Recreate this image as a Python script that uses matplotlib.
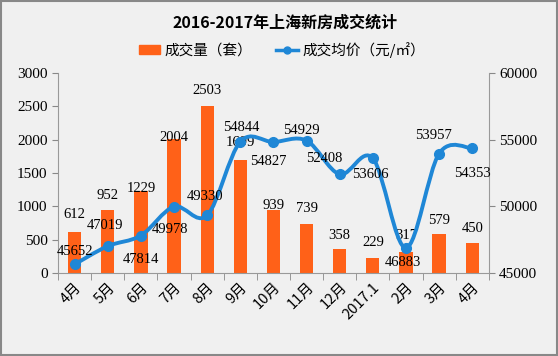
import numpy as np
import matplotlib.pyplot as plt
from matplotlib.path import Path
from matplotlib.patches import PathPatch, Patch
from matplotlib.lines import Line2D

plt.rcParams['font.family'] = ['Noto Sans CJK SC', 'DejaVu Sans']

months = ['4月', '5月', '6月', '7月', '8月', '9月', '10月', '11月', '12月',
          '2017.1', '2月', '3月', '4月']
volume = [612, 952, 1229, 2004, 2503, 1699, 939, 739, 358, 229, 317, 579, 450]
price = [45652, 47019, 47814, 49978, 49330, 54844, 54827, 54929, 52408,
         53606, 46883, 53957, 54353]

# label offsets in pixels
bar_dy = [18, 14, 3, 2, 16, 17, 5, 15, 14, 15, 16, 14, 15]
price_off = [(0, 13), (-3, 21), (0, -24), (-4, -23), (-2, 19), (1, 14), (-5, -20),
             (-5, 10), (-15, 16), (-3, -16), (-3, -15), (-6, 18), (0, -25)]

bar_color = '#FF6118'
line_color = '#1F87D6'
num_font = 'Liberation Serif'

fig = plt.figure(figsize=(5.58, 3.56), dpi=100, facecolor='#F0F0F0')
ax = fig.add_axes([0.104, 0.233, 0.772, 0.562])
ax.set_facecolor('none')
x = np.arange(len(months))

ax.bar(x, volume, width=0.4, color=bar_color, zorder=2)
ax.set_xlim(-0.5, len(months) - 0.5)
ax.set_ylim(0, 3000)
ax.set_yticks(range(0, 3001, 500))
for i, v in enumerate(volume):
    ax.annotate(str(v), (i, v), xytext=(0, bar_dy[i]), textcoords='offset pixels',
                ha='center', va='center', fontsize=10.5, family=num_font, zorder=5)

ax.set_xticks(x)
ax.set_xticklabels(months, rotation=45, ha='right', rotation_mode='anchor',
                   fontsize=10.5, family=['Noto Sans CJK SC'])
ax.set_xticks(np.arange(-0.5, len(months), 1), minor=True)
ax.tick_params(axis='x', which='major', length=0, pad=5)
ax.tick_params(axis='x', which='minor', length=5, color='#888888')
ax.tick_params(axis='y', length=4, color='#888888', labelsize=11)
for lab in ax.get_yticklabels():
    lab.set_family(num_font)
for s in ['top', 'right']:
    ax.spines[s].set_visible(False)
ax.spines['left'].set_color('#999999')
ax.spines['bottom'].set_color('#999999')

ax2 = ax.twinx()
ax2.set_ylim(45000, 60000)
ax2.set_yticks(range(45000, 60001, 5000))
ax2.tick_params(axis='y', length=4, color='#888888', labelsize=11)
for lab in ax2.get_yticklabels():
    lab.set_family(num_font)
for s in ['top', 'left', 'bottom']:
    ax2.spines[s].set_visible(False)
ax2.spines['right'].set_color('#999999')

# smooth line through the points (Catmull-Rom as Bezier segments)
pts = np.column_stack([x, price]).astype(float)
verts = [pts[0]]
codes = [Path.MOVETO]
n = len(pts)
for i in range(n - 1):
    p0 = pts[max(i - 1, 0)]
    p1 = pts[i]
    p2 = pts[i + 1]
    p3 = pts[min(i + 2, n - 1)]
    c1 = p1 + (p2 - p0) / 6
    c2 = p2 - (p3 - p1) / 6
    verts += [c1, c2, p2]
    codes += [Path.CURVE4] * 3
ax2.add_patch(PathPatch(Path(verts, codes), facecolor='none', edgecolor=line_color,
                        lw=2.8, zorder=3))
ax2.plot(x, price, 'o', color=line_color, ms=7, zorder=4)
for i, v in enumerate(price):
    ax2.annotate(str(v), (i, v), xytext=price_off[i], textcoords='offset pixels',
                 ha='center', va='center', fontsize=10.5, family=num_font, zorder=5)

fig.text(0.51, 0.935, '2016-2017年上海新房成交统计', ha='center', va='center',
         fontsize=11.5, fontweight='bold')
handles = [Patch(color=bar_color, label='成交量（套）'),
           Line2D([0], [0], color=line_color, lw=2.5, marker='o', ms=5,
                  label='成交均价（元/㎡）')]
fig.legend(handles=handles, loc='center', bbox_to_anchor=(0.505, 0.86), ncol=2,
           frameon=False, fontsize=10.5, handlelength=1.5, columnspacing=1.6,
           handletextpad=0.3, handleheight=0.5)

fig.patches.append(plt.Rectangle((0.002, 0.003), 0.996, 0.994, transform=fig.transFigure,
                                 fill=False, edgecolor='#888888', lw=1.5))

fig.savefig('out.png', dpi=100, facecolor=fig.get_facecolor())
